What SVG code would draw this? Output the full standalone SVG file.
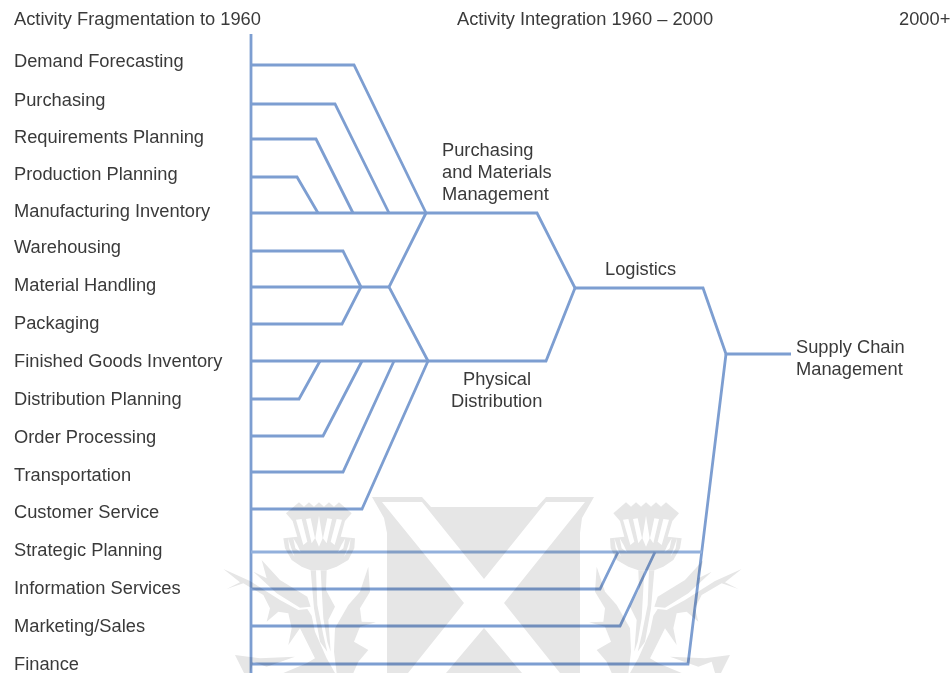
<svg xmlns="http://www.w3.org/2000/svg" width="952" height="673" viewBox="0 0 952 673">
<style>
text{font-family:"Liberation Sans",Arial,sans-serif;font-size:18.3px;fill:#3a3a3a}
.w{fill:#e6e6e6;stroke:none}
.h{fill:#fff;stroke:none}
#connectors{mix-blend-mode:multiply}
#connectors path{fill:none;stroke:#7d9ed1;stroke-width:2.8;stroke-linejoin:miter}
#connectors path.p{stroke:#92b0dc}
</style>
<defs>
<g id="thistle">
<path class="w" d="M198 55L237 22L252 35L267 22L282 35L297 22L312 35L327 22L342 35L357 22L395 55L375 78L362 125L405 130L403 160L385 195L350 215L320 226L272 226L245 215L215 195L195 160L190 130L232 125L218 78Z"/>
<path class="h" d="M228 74L245 72L262 140L250 150ZM258 72L272 70L285 130L275 145ZM297 62L308 130L297 155L286 130ZM322 70L336 72L320 145L309 130ZM350 72L366 74L344 150L332 140Z"/>
<path class="h" d="M204 130L208 160L224 186L214 160ZM392 130L388 160L372 186L382 160ZM220 130L226 160L242 172L232 150ZM376 130L370 160L354 172L364 150Z"/>
<path class="w" d="M272 226L288 226L292 330L310 420L322 470L300 440L282 340Z"/>
<path class="w" d="M302 226L320 226L318 285L345 335L325 375L332 470L322 440L310 370Z"/>
<path class="w" d="M125 195L180 255L262 305L272 335L240 338L170 295L100 230L140 250Z"/>
<path class="w" d="M10 222L90 258L180 315L235 345L262 342L275 362L285 410L320 490L345 534L190 534L260 505L285 490L240 400L205 450L215 400L205 355L175 350L140 380L150 340L130 300L70 265L20 282L60 262Z"/>
<path class="w" d="M445 215L450 290L420 340L425 380L468 382L420 395L402 440L445 465L415 500L400 534L350 534L342 470L345 400L385 330L420 290Z"/>
<path class="w" d="M45 480L120 490L225 485L140 515L100 500L90 534L72 534Z"/>
</g>
</defs>
<rect width="952" height="673" fill="#fff"/>
<g id="watermark">
<path class="w" d="M372 497L422 497L431 507L537 507L546 497L594 497L582 518L580 533L580 673L387 673L387 533L384 518Z"/>
<path class="h" d="M382 502L422 502L484 579L546 502L585 502L504 603L560 673L522 673L484 628L446 673L408 673L464 603Z"/>
<use href="#thistle" transform="translate(220 495) scale(.3333)"/>
<use href="#thistle" transform="translate(745 495) scale(-.3333 .3333)"/>
</g>
<g id="connectors">
<path d="M251 34V673"/>
<path d="M251 65H354L426 213"/>
<path d="M251 104H335L389 213"/>
<path d="M251 139H316L353 213"/>
<path d="M251 177H297L318 213"/>
<path d="M251 213H537L575 288"/>
<path d="M426 213L389 287L428 361"/>
<path d="M251 251H343L361 287L342 324H251"/>
<path d="M251 287H389"/>
<path d="M251 361H546L575 288"/>
<path d="M575 288H703L726 354H791"/>
<path d="M726 354L688 664H251"/>
<path d="M251 399H299L320 361"/>
<path d="M251 436H323L362 361"/>
<path d="M251 472H343L394 361"/>
<path d="M251 509H362L428 361"/>
<path class="p" d="M251 552H702"/>
<path d="M251 589H600L618 552"/>
<path d="M251 626H620L655 552"/>
</g>
<g id="headers">
<text x="14" y="25">Activity Fragmentation to 1960</text>
<text x="457" y="25">Activity Integration 1960 – 2000</text>
<text x="899" y="25">2000+</text>
</g>
<g id="activities">
<text x="14" y="67">Demand Forecasting</text>
<text x="14" y="106">Purchasing</text>
<text x="14" y="143">Requirements Planning</text>
<text x="14" y="180">Production Planning</text>
<text x="14" y="217">Manufacturing Inventory</text>
<text x="14" y="253">Warehousing</text>
<text x="14" y="291">Material Handling</text>
<text x="14" y="329">Packaging</text>
<text x="14" y="367">Finished Goods Inventory</text>
<text x="14" y="405">Distribution Planning</text>
<text x="14" y="443">Order Processing</text>
<text x="14" y="481">Transportation</text>
<text x="14" y="518">Customer Service</text>
<text x="14" y="556">Strategic Planning</text>
<text x="14" y="594">Information Services</text>
<text x="14" y="632">Marketing/Sales</text>
<text x="14" y="670">Finance</text>
</g>
<g id="node-pmm"><text x="442" y="156">Purchasing</text><text x="442" y="178">and Materials</text><text x="442" y="200">Management</text></g>
<g id="node-pd"><text x="463" y="385">Physical</text><text x="451" y="407">Distribution</text></g>
<g id="node-logistics"><text x="605" y="275">Logistics</text></g>
<g id="node-scm"><text x="796" y="353">Supply Chain</text><text x="796" y="375">Management</text></g>
</svg>
